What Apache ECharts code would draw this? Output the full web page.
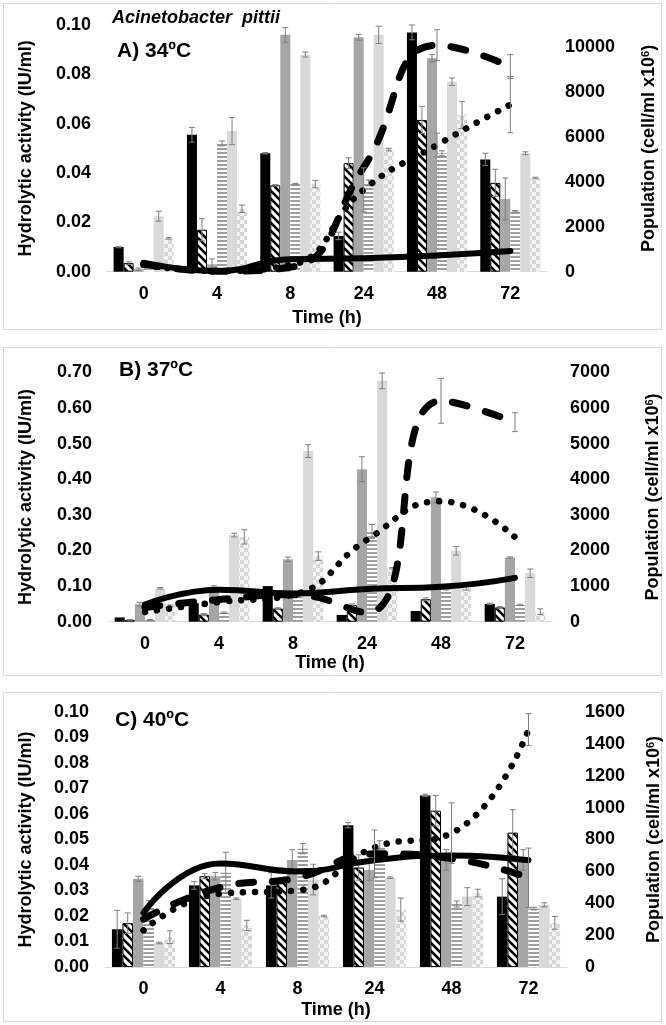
<!DOCTYPE html>
<html><head><meta charset="utf-8">
<script src="https://cdn.jsdelivr.net/npm/echarts@6/dist/echarts.min.js"></script>
<style>html,body{margin:0;padding:0;background:#fff}#c{width:666px;height:1025px}</style>
</head><body><div id="c"></div>
<script>
const categories = ['0', '4', '8', '24', '48', '72'];

// ---- A) 34ºC : hydrolytic activity (IU/ml) ----
const a_black   = [0.010, 0.0555, 0.048, 0.0145, 0.097, 0.0455];
const a_hatched = [0.0035, 0.017, 0.035, 0.044, 0.0615, 0.036];
const a_gray    = [0.001, 0.003, 0.096, 0.095, 0.0865, 0.0295];
const a_striped = [0.002, 0.052, 0.0355, 0.036, 0.048, 0.0245];
const a_light   = [0.0225, 0.057, 0.088, 0.096, 0.077, 0.048];
const a_checked = [0.0135, 0.0255, 0.0355, 0.0495, 0.0635, 0.038];
const a_black_err   = [0.0003, 0.003, 0.0003, 0.0015, 0.003, 0.0025];
const a_hatched_err = [0.0005, 0.0045, 0.0003, 0.0022, 0.0055, 0.0055];
const a_gray_err    = [0.0005, 0.0022, 0.003, 0.0012, 0.0015, 0.0085];
const a_striped_err = [0.0005, 0.001, 0.0003, 0.0012, 0.001, 0.0003];
const a_light_err   = [0.002, 0.0055, 0.001, 0.0035, 0.0015, 0.0006];
const a_checked_err = [0.0003, 0.0015, 0.0015, 0.0005, 0.0055, 0.0003];
// population (cell/ml x10^6)
const a_solid  = [400, 30, 560, 600, 720, 920];
const a_dashed = [350, 20, 200, 4650, 10100, 9150];
const a_dotted = [300, 40, 300, 3650, 5650, 7450];
const a_solid_err  = [0, 0, 0, 0, 0, 0];
const a_dashed_err = [0, 0, 0, 0, 690, 530];
const a_dotted_err = [0, 0, 0, 980, 530, 1250];

// ---- B) 37ºC ----
const b_black   = [0.012, 0.052, 0.100, 0.019, 0.030, 0.050];
const b_hatched = [0.005, 0.020, 0.037, 0.047, 0.063, 0.040];
const b_gray    = [0.049, 0.098, 0.175, 0.428, 0.349, 0.180];
const b_striped = [0.005, 0.025, 0.070, 0.253, 0.091, 0.047];
const b_light   = [0.094, 0.243, 0.479, 0.676, 0.199, 0.136];
const b_checked = [0.045, 0.238, 0.184, 0.150, 0.094, 0.028];
const b_black_err   = [0, 0, 0, 0, 0, 0.002];
const b_hatched_err = [0.001, 0.003, 0.002, 0.003, 0.004, 0.003];
const b_gray_err    = [0.005, 0.003, 0.006, 0.035, 0.015, 0.002];
const b_striped_err = [0.001, 0.002, 0.002, 0.02, 0.002, 0.002];
const b_light_err   = [0.002, 0.005, 0.018, 0.022, 0.012, 0.012];
const b_checked_err = [0.002, 0.02, 0.012, 0.002, 0.005, 0.008];
const b_solid  = [480, 900, 790, 920, 980, 1230];
const b_dashed = [400, 620, 760, 260, 6200, 5600];
const b_dotted = [270, 550, 760, 2300, 3380, 2370];
const b_solid_err  = [0, 0, 0, 0, 0, 0];
const b_dashed_err = [0, 0, 0, 0, 630, 265];
const b_dotted_err = [0, 0, 0, 0, 0, 0];

// ---- C) 40ºC ----
const c_black   = [0.0148, 0.032, 0.032, 0.0556, 0.0673, 0.0276];
const c_hatched = [0.0172, 0.0356, 0.034, 0.039, 0.0613, 0.0527];
const c_gray    = [0.0346, 0.0356, 0.042, 0.038, 0.042, 0.042];
const c_striped = [0.0235, 0.037, 0.0464, 0.047, 0.0247, 0.0229];
const c_light   = [0.0094, 0.0268, 0.0343, 0.035, 0.0276, 0.0244];
const c_checked = [0.0117, 0.0163, 0.020, 0.0225, 0.029, 0.0173];
const c_black_err   = [0.0074, 0.0015, 0.005, 0.001, 0.0005, 0.007];
const c_hatched_err = [0.004, 0.001, 0.001, 0.005, 0.006, 0.009];
const c_gray_err    = [0.001, 0.0015, 0.004, 0.004, 0.004, 0.004];
const c_striped_err = [0.0025, 0.008, 0.002, 0.0025, 0.0012, 0.0005];
const c_light_err   = [0.0003, 0.0003, 0.006, 0.0003, 0.0035, 0.0008];
const c_checked_err = [0.0025, 0.002, 0.0003, 0.0045, 0.0015, 0.0025];
const c_solid  = [340, 650, 600, 670, 700, 670];
const c_dashed = [300, 500, 560, 710, 680, 560];
const c_dotted = [230, 460, 480, 750, 840, 1490];
const c_solid_err  = [0, 0, 0, 0, 0, 0];
const c_dashed_err = [0, 0, 0, 150, 0, 186];
const c_dotted_err = [0, 0, 0, 0, 190, 100];

// ---------------------------------------------------------------
const FONT = '"Liberation Sans", Arial, Helvetica, sans-serif';
const CAT_GAP = 0.18;
const NBARS = 6;

function pat(w, h, draw) {
  const c = document.createElement('canvas'); c.width = w; c.height = h;
  draw(c.getContext('2d')); return { image: c, repeat: 'repeat' };
}
const hatchPat = pat(8, 8, g => {
  g.fillStyle = '#fff'; g.fillRect(0, 0, 8, 8);
  g.strokeStyle = '#000'; g.lineWidth = 2.6; g.beginPath();
  g.moveTo(-2, -2); g.lineTo(10, 10);
  g.moveTo(-2, 6); g.lineTo(2, 10);
  g.moveTo(6, -2); g.lineTo(10, 2);
  g.stroke();
});
const stripePat = pat(4, 4, g => {
  g.fillStyle = '#fff'; g.fillRect(0, 0, 4, 4);
  g.fillStyle = '#9e9e9e'; g.fillRect(0, 0, 4, 2);
});
const checkPat = pat(8, 8, g => {
  g.fillStyle = '#f4f4f4'; g.fillRect(0, 0, 8, 8);
  g.fillStyle = '#d6d6d6'; g.fillRect(0, 0, 4, 4); g.fillRect(4, 4, 4, 4);
});
const barStyles = [
  { color: '#000' },
  { color: hatchPat, borderColor: '#000', borderWidth: 1 },
  { color: '#a6a6a6' },
  { color: stripePat },
  { color: '#d9d9d9' },
  { color: checkPat }
];

const panels = [
  { grid: { left: 107, right: 119, top: 25, height: 246.7 }, lMax: 0.10, lInt: 0.02, rMax: 11000, rInt: 2000,
    bars: [a_black, a_hatched, a_gray, a_striped, a_light, a_checked],
    errs: [a_black_err, a_hatched_err, a_gray_err, a_striped_err, a_light_err, a_checked_err],
    lines: [a_solid, a_dashed, a_dotted], lerrs: [a_solid_err, a_dashed_err, a_dotted_err],
    lGap: 72, rGap: 93, xGap: 37 },
  { grid: { left: 108, right: 114, top: 372.3, height: 249.4 }, lMax: 0.70, lInt: 0.10, rMax: 7000, rInt: 1000,
    bars: [b_black, b_hatched, b_gray, b_striped, b_light, b_checked],
    errs: [b_black_err, b_hatched_err, b_gray_err, b_striped_err, b_light_err, b_checked_err],
    lines: [b_solid, b_dashed, b_dotted], lerrs: [b_solid_err, b_dashed_err, b_dotted_err],
    lGap: 73, rGap: 92, xGap: 32 },
  { grid: { left: 105, right: 99, top: 712, height: 255 }, lMax: 0.10, lInt: 0.01, rMax: 1600, rInt: 200,
    bars: [c_black, c_hatched, c_gray, c_striped, c_light, c_checked],
    errs: [c_black_err, c_hatched_err, c_gray_err, c_striped_err, c_light_err, c_checked_err],
    lines: [c_solid, c_dashed, c_dotted], lerrs: [c_solid_err, c_dashed_err, c_dotted_err],
    lGap: 70, rGap: 78, xGap: 34 }
];

const lineStyles = [
  { width: 6, type: 'solid', cap: 'round' },
  { width: 7, type: [15, 19], cap: 'round' },
  { width: 6.5, type: [0.1, 12], cap: 'round' }
];

const grids = [], xAxes = [], yAxes = [], series = [];
const lbl = { fontFamily: FONT, fontWeight: 'bold', fontSize: 18, color: '#000' };

function errRender(barIdx) {
  return function (params, api) {
    const i = api.value(0), v = api.value(1), e = api.value(2);
    if (!e) return null;
    const c = api.coord([i, v]);
    let x = c[0];
    if (barIdx >= 0) {
      const band = api.size([1, 0])[0];
      const gw = band * (1 - CAT_GAP), bw = gw / NBARS;
      x = c[0] - gw / 2 + (barIdx + 0.5) * bw;
    }
    const yt = api.coord([i, v + e])[1];
    const yb = api.coord([i, Math.max(0, v - e)])[1];
    const st = { stroke: '#7f7f7f', lineWidth: 1 };
    const cw = 3;
    return { type: 'group', children: [
      { type: 'line', shape: { x1: x, y1: yt, x2: x, y2: yb }, style: st },
      { type: 'line', shape: { x1: x - cw, y1: yt, x2: x + cw, y2: yt }, style: st },
      { type: 'line', shape: { x1: x - cw, y1: yb, x2: x + cw, y2: yb }, style: st }
    ] };
  };
}

panels.forEach((p, k) => {
  grids.push(Object.assign({ containLabel: false, outerBoundsMode: 'none' }, p.grid));
  xAxes.push({
    type: 'category', gridIndex: k, data: categories,
    axisLine: { show: true, lineStyle: { color: '#d9d9d9', width: 1 } },
    axisTick: { show: false }, axisLabel: Object.assign({ margin: 13 }, lbl),
    name: 'Time (h)', nameLocation: 'middle', nameGap: p.xGap, nameTextStyle: lbl, nameMoveOverlap: false
  });
  yAxes.push({
    type: 'value', gridIndex: k, min: 0, max: p.lMax, interval: p.lInt, position: 'left',
    axisLine: { show: false }, axisTick: { show: false }, splitLine: { show: false },
    axisLabel: Object.assign({ margin: 16, formatter: v => v.toFixed(2) }, lbl),
    name: 'Hydrolytic activity (IU/ml)', nameLocation: 'middle', nameRotate: 90, nameGap: p.lGap,
    nameTextStyle: lbl, nameMoveOverlap: false
  });
  const rInt = p.rInt;
  yAxes.push({
    type: 'value', gridIndex: k, min: 0, max: p.rMax, interval: rInt, position: 'right',
    axisLine: { show: false }, axisTick: { show: false }, splitLine: { show: false },
    axisLabel: Object.assign({ margin: 18, showMaxLabel: p.rMax % rInt === 0,
      formatter: v => (Math.abs(v % rInt) < 1e-6 ? String(Math.round(v)) : '') }, lbl),
    name: 'Population (cell/ml x10{s|6})', nameLocation: 'middle', nameRotate: 90, nameGap: p.rGap,
    nameTextStyle: Object.assign({ rich: { s: { fontFamily: FONT, fontWeight: 'bold', fontSize: 11, color: '#000', verticalAlign: 'top', padding: [0, 0, 8, 0] } } }, lbl),
    nameMoveOverlap: false
  });
  const yl = 2 * k, yr = 2 * k + 1;
  p.bars.forEach((arr, b) => {
    series.push({
      type: 'bar', xAxisIndex: k, yAxisIndex: yl, data: arr,
      barGap: '0%', barCategoryGap: (CAT_GAP * 100) + '%',
      itemStyle: barStyles[b], z: 2, silent: true, animation: false
    });
  });
  p.bars.forEach((arr, b) => {
    series.push({
      type: 'custom', xAxisIndex: k, yAxisIndex: yl, z: 3, silent: true, animation: false,
      data: arr.map((v, i) => [i, v, p.errs[b][i]]),
      renderItem: errRender(b), encode: { x: 0, y: 1 }
    });
  });
  p.lines.forEach((arr, j) => {
    series.push({
      type: 'line', xAxisIndex: k, yAxisIndex: yr, data: arr, smooth: 0.5,
      symbol: 'none', lineStyle: Object.assign({ color: '#000' }, lineStyles[j]),
      z: 5, silent: true, animation: false
    });
    series.push({
      type: 'custom', xAxisIndex: k, yAxisIndex: yr, z: 6, silent: true, animation: false,
      data: arr.map((v, i) => [i, v, p.lerrs[j][i]]),
      renderItem: errRender(-1), encode: { x: 0, y: 1 }
    });
  });
});

const graphic = [
  { type: 'rect', shape: { x: 3.5, y: 3.5, width: 658, height: 326 }, style: { fill: 'none', stroke: '#d9d9d9', lineWidth: 1 }, silent: true },
  { type: 'rect', shape: { x: 3.5, y: 347.5, width: 658, height: 328 }, style: { fill: 'none', stroke: '#d9d9d9', lineWidth: 1 }, silent: true },
  { type: 'rect', shape: { x: 3.5, y: 692.5, width: 658, height: 329 }, style: { fill: 'none', stroke: '#d9d9d9', lineWidth: 1 }, silent: true },
  { type: 'text', left: 112, top: 9, style: { text: 'Acinetobacter  pittii', font: 'italic bold 18px ' + FONT, fill: '#000' }, silent: true },
  { type: 'text', left: 117, top: 41, style: { text: 'A) 34ºC', font: 'bold 21px ' + FONT, fill: '#000' }, silent: true },
  { type: 'text', left: 119, top: 360, style: { text: 'B) 37ºC', font: 'bold 21px ' + FONT, fill: '#000' }, silent: true },
  { type: 'text', left: 115, top: 710, style: { text: 'C) 40ºC', font: 'bold 21px ' + FONT, fill: '#000' }, silent: true }
];

const chart = echarts.init(document.getElementById('c'), null, { renderer: 'canvas' });
chart.setOption({
  animation: false, backgroundColor: '#fff',
  grid: grids, xAxis: xAxes, yAxis: yAxes, series: series, graphic: graphic
});
</script></body></html>
